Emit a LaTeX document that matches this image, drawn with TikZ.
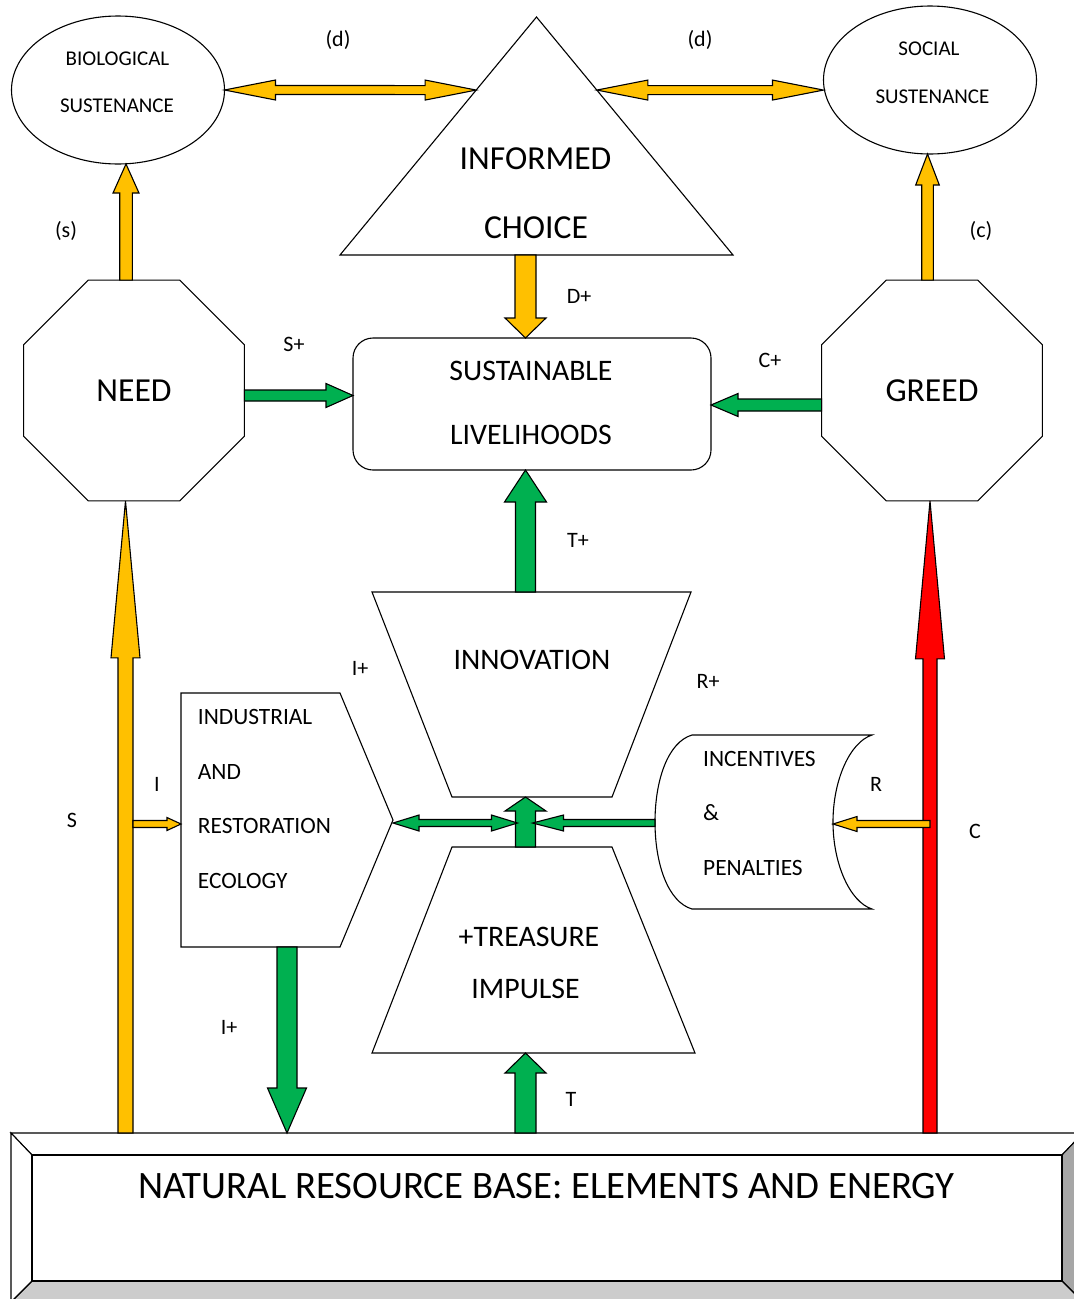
\documentclass[tikz,border=0pt]{standalone}
\usepackage{fontspec}
\setmainfont{Carlito}
\usetikzlibrary{calc,shapes.geometric}
\definecolor{ay}{HTML}{FFC000}
\definecolor{ag}{HTML}{00B050}
\definecolor{ar}{HTML}{FF0000}
\definecolor{bevdark}{HTML}{A6A6A6}
\definecolor{bevlight}{HTML}{CCCCCC}
% #1 fill colour, #2 from, #3 to, #4 shaft half width, #5 head half width, #6 head length
\newcommand\blockarrow[6]{%
  \coordinate (ba-h) at ($(#3)!#6pt!(#2)$);
  \draw[arrowline, fill=#1]
    ($(#2)!#4pt!90:(#3)$) -- ($(ba-h)!#4pt!90:(#3)$) -- ($(ba-h)!#5pt!90:(#3)$) -- (#3)
    -- ($(ba-h)!#5pt!-90:(#3)$) -- ($(ba-h)!#4pt!-90:(#3)$) -- ($(#2)!#4pt!-90:(#3)$) -- cycle;
}
\newcommand\dblarrow[6]{%
  \coordinate (da-a) at ($(#2)!#6pt!(#3)$);
  \coordinate (da-b) at ($(#3)!#6pt!(#2)$);
  \draw[arrowline, fill=#1] (#2) -- ($(da-a)!#5pt!90:(#3)$) -- ($(da-a)!#4pt!90:(#3)$)
    -- ($(da-b)!#4pt!90:(#3)$) -- ($(da-b)!#5pt!90:(#3)$) -- (#3)
    -- ($(da-b)!#5pt!-90:(#3)$) -- ($(da-b)!#4pt!-90:(#3)$)
    -- ($(da-a)!#4pt!-90:(#3)$) -- ($(da-a)!#5pt!-90:(#3)$) -- cycle;
}
\begin{document}
\begin{tikzpicture}[x=1pt,y=-1pt,
  shapeline/.style={draw=black, line width=1.1pt, fill=white},
  frame/.style={draw=none, inner sep=0pt, outer sep=0pt},
  arrowline/.style={draw=black, line width=1.1pt, line join=miter},
  lbl/.style={font=\fontsize{22}{26}\selectfont, inner sep=0pt},
  big/.style={font=\fontsize{33.6}{40}\selectfont, inner sep=0pt},
  mid/.style={font=\fontsize{29.8}{36}\selectfont, inner sep=0pt},
  sm/.style={font=\fontsize{23.4}{28}\selectfont, inner sep=0pt, anchor=west},
  ell/.style={font=\fontsize{21}{25}\selectfont, inner sep=0pt},
  oct/.style={regular polygon, regular polygon sides=8, minimum size=239pt,
    shapeline, inner sep=0pt, outer sep=0pt, big},
  ellip/.style={ellipse, shapeline, inner sep=0pt, outer sep=0pt,
    minimum width=213pt, minimum height=148pt}]
\useasboundingbox (0,0) rectangle (1074,1299);
\fill[white] (0,0) rectangle (1074,1299);

% ---------- base ----------
\begin{scope}
\clip (0,0) rectangle (1074,1299);
\node[frame, minimum width=1072pt, minimum height=169pt] (base) at (547,1217.5) {};
\filldraw[shapeline] (11,1133) -- (1083,1133) -- (1062,1155) -- (32,1155) -- cycle;
\filldraw[shapeline, fill=bevdark] (1083,1133) -- (1083,1302) -- (1062,1281) -- (1062,1155) -- cycle;
\filldraw[shapeline, fill=bevlight] (11,1302) -- (1083,1302) -- (1062,1281) -- (32,1281) -- cycle;
\filldraw[shapeline] (11,1133) -- (32,1155) -- (32,1281) -- (11,1302) -- cycle;
\filldraw[shapeline] (32,1155) rectangle (1062,1281);
\end{scope}
\node[font=\fontsize{38.8}{46}\selectfont, inner sep=0pt] (title) at (546.5,1186)
  {NATURAL RESOURCE BASE: ELEMENTS AND ENERGY};

% ---------- shapes ----------
\node[ellip] (bio) at (118,90) {};
\node[ellip] (soc) at (930,80) {};

\node[frame, minimum width=393pt, minimum height=238pt] (tri) at (536.5,136) {};
\filldraw[shapeline] (tri.south west) -- (tri.north) -- (tri.south east) -- cycle;

\node[oct] (need) at (134,390.5) {NEED};
\node[oct] (greed) at (932,390.5) {GREED};

\node[shapeline, rounded corners=20pt, minimum width=358pt, minimum height=132pt,
  inner sep=0pt, outer sep=0pt] (sl) at (532,404) {};

\node[frame, minimum width=319pt, minimum height=205pt] (inno) at (531.5,694.5) {};
\filldraw[shapeline] (inno.north west) -- (inno.north east) -- ($(inno.south east)+(-79,0)$)
  -- ($(inno.south west)+(80,0)$) -- cycle;

\node[frame, minimum width=323pt, minimum height=206pt] (tre) at (533.5,950) {};
\filldraw[shapeline] ($(tre.north west)+(80,0)$) -- ($(tre.north east)+(-83,0)$)
  -- (tre.south east) -- (tre.south west) -- cycle;

\node[frame, minimum width=212pt, minimum height=254pt] (ind) at (287,820) {};
\filldraw[shapeline] (ind.north west) -- ($(ind.north west)+(159,0)$) -- (ind.east)
  -- ($(ind.south west)+(159,0)$) -- (ind.south west) -- cycle;

\node[frame, minimum width=217pt, minimum height=174pt] (inc) at (763.5,822) {};
\filldraw[shapeline] (692,735) -- (872,735) .. controls (850,742) and (833,780) .. (833,822)
  .. controls (833,864) and (850,902) .. (872,909) -- (692,909)
  .. controls (668,902) and (655,864) .. (655,822)
  .. controls (655,780) and (668,742) .. (692,735) -- cycle;

% ---------- helper coordinates ----------
\coordinate (colS) at (126,0);
\coordinate (colSL) at (125.5,0);
\coordinate (colC) at (927.5,0);
\coordinate (colCL) at (930,0);
\coordinate (colM) at (525.5,0);
\coordinate (colI) at (287,0);
\coordinate (rowSp) at (0,395.5);
\coordinate (rowCp) at (0,405);
\coordinate (rowM) at (0,823);
\coordinate (rowR) at (0,824);

% ---------- arrows ----------
\coordinate (triL) at ($(tri.south west)!0.693!(tri.north)$);
\coordinate (triR) at ($(tri.south east)!0.693!(tri.north)$);
\coordinate (socL) at (soc.west |- triR);
\dblarrow{ay}{bio.east}{triL}{4.5}{10}{51}
\dblarrow{ay}{triR}{socL}{4.5}{10}{51}

\coordinate (s1) at (colS |- need.north);
\coordinate (s2) at (colS |- bio.south);
\blockarrow{ay}{s1}{s2}{6.3}{13}{29}
\coordinate (c1) at (colC |- greed.north);
\coordinate (c2) at (colC |- soc.south);
\blockarrow{ay}{c1}{c2}{5.8}{11.8}{31}

\coordinate (dp1) at (colM |- tri.south);
\coordinate (dp2) at (colM |- sl.north);
\blockarrow{ay}{dp1}{dp2}{10.5}{20.5}{20}

\coordinate (sp1) at (need.east |- rowSp);
\coordinate (sp2) at (sl.west |- rowSp);
\blockarrow{ag}{sp1}{sp2}{5.5}{12}{27}
\coordinate (cp1) at (greed.west |- rowCp);
\coordinate (cp2) at (sl.east |- rowCp);
\blockarrow{ag}{cp1}{cp2}{6}{11.5}{27}

\coordinate (tp1) at (colM |- inno.north);
\coordinate (tp2) at (colM |- sl.south);
\blockarrow{ag}{tp1}{tp2}{10}{21}{32}

\coordinate (u1) at (colM |- tre.north);
\coordinate (u2) at (colM |- inno.south);
\blockarrow{ag}{u1}{u2}{10}{20.5}{14}

\coordinate (m1) at (ind.east |- rowM);
\coordinate (m2) at (517.5,823);
\dblarrow{ag}{m1}{m2}{3.5}{8}{26}
\coordinate (m3) at (inc.west |- rowM);
\coordinate (m4) at (532.5,823);
\blockarrow{ag}{m3}{m4}{3.5}{8}{31}

\coordinate (S1) at (colSL |- base.north);
\coordinate (S2) at (colSL |- need.south);
\blockarrow{ay}{S1}{S2}{7.5}{14.5}{157}
\coordinate (C1) at (colCL |- base.north);
\coordinate (C2) at (colCL |- greed.south);
\blockarrow{ar}{C1}{C2}{7}{14.5}{158}

\coordinate (i1) at (133,824);
\coordinate (i2) at (ind.west |- rowR);
\blockarrow{ay}{i1}{i2}{3.5}{6.5}{14}
\coordinate (r1) at (930,824);
\coordinate (r2) at (833,824);
\blockarrow{ay}{r1}{r2}{3.5}{7.5}{24}

\coordinate (ip1) at (colI |- ind.south);
\coordinate (ip2) at (colI |- base.north);
\blockarrow{ag}{ip1}{ip2}{10}{19.5}{45}
\coordinate (t1) at (colM |- base.north);
\coordinate (t2) at (colM |- tre.south);
\blockarrow{ag}{t1}{t2}{10.5}{20.5}{20}

% ---------- texts ----------
\node[ell] (bioA) at (117.5,58.5) {BIOLOGICAL};
\node[ell] (bioB) at (117,105.5) {SUSTENANCE};
\node[ell] (socA) at (929,48.5) {SOCIAL};
\node[ell] (socB) at (932.5,96.5) {SUSTENANCE};
\node[big] (infA) at (535.5,158.5) {INFORMED};
\node[big] (infB) at (536,228) {CHOICE};
\node[mid] (slA) at (531,371) {SUSTAINABLE};
\node[mid] (slB) at (531,435) {LIVELIHOODS};
\node[mid] (innoT) at (532,660) {INNOVATION};
\node[mid] (treA) at (529,937) {+TREASURE};
\node[mid] (treB) at (525.5,988.5) {IMPULSE};
\node[sm] (indA) at (197.7,716.5) {INDUSTRIAL};
\node[sm] (indB) at (197.7,771.5) {AND};
\node[sm] (indC) at (197.7,825.5) {RESTORATION};
\node[sm] (indD) at (197.7,881) {ECOLOGY};
\node[sm] (incA) at (703,759) {INCENTIVES};
\node[sm] (incB) at (703,813) {\&};
\node[sm] (incC) at (703,868) {PENALTIES};

\node[lbl] (ld1) at (338,40) {(d)};
\node[lbl] (ld2) at (700,40) {(d)};
\node[lbl] (ls) at (66,231) {(s)};
\node[lbl] (lc) at (981,231) {(c)};
\node[lbl] (lDp) at (579,296) {D+};
\node[lbl] (lSp) at (294,344) {S+};
\node[lbl] (lCp) at (770,360) {C+};
\node[lbl] (lTp) at (578,540) {T+};
\node[lbl] (lIp) at (360,668) {I+};
\node[lbl] (lRp) at (708,681) {R+};
\node[lbl] (lI) at (157,784) {I};
\node[lbl] (lR) at (876,784) {R};
\node[lbl] (lS) at (72,820) {S};
\node[lbl] (lC) at (975,831) {C};
\node[lbl] (lIp2) at (229,1027) {I+};
\node[lbl] (lT) at (571,1099) {T};
\end{tikzpicture}
\end{document}
